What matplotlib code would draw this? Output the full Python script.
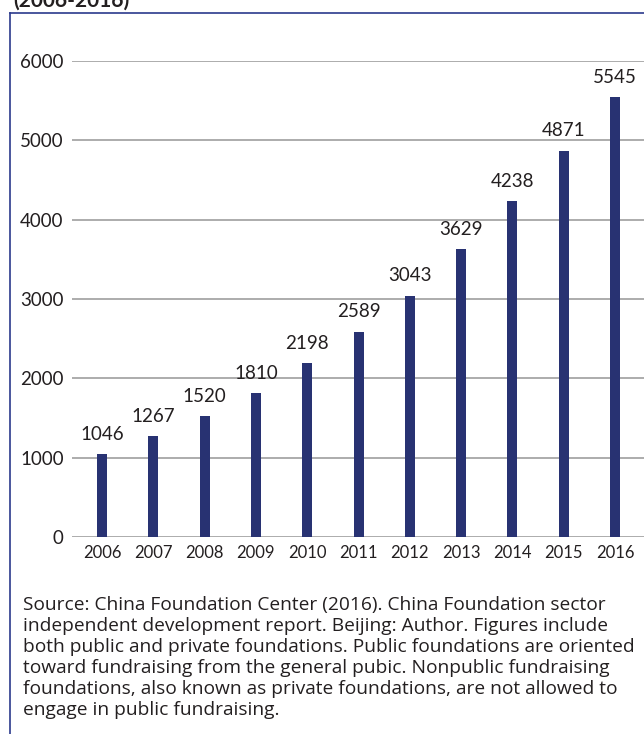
import matplotlib.pyplot as plt
from matplotlib.lines import Line2D

years = ["2006", "2007", "2008", "2009", "2010", "2011", "2012", "2013", "2014", "2015", "2016"]
counts = [1046, 1267, 1520, 1810, 2198, 2589, 3043, 3629, 4238, 4871, 5545]
y_ticks = [0, 1000, 2000, 3000, 4000, 5000, 6000]

title = "(2006-2016)"
source_note = (
    "Source: China Foundation Center (2016). China Foundation sector\n"
    "independent development report. Beijing: Author. Figures include\n"
    "both public and private foundations. Public foundations are oriented\n"
    "toward fundraising from the general pubic. Nonpublic fundraising\n"
    "foundations, also known as private foundations, are not allowed to\n"
    "engage in public fundraising."
)

BAR = "#283272"
FRAME = "#2b3a8c"
GRID = "#a6a6a6"
TEXT = "#231f20"

plt.rcParams["font.family"] = ["Lato", "DejaVu Sans"]

W, H = 644, 734
fig = plt.figure(figsize=(W / 100, H / 100), dpi=100)

# frame (left and top edges of the boxed figure)
fig.add_artist(Line2D([10 / W, 10 / W], [0, 1 - 13 / H], color=FRAME, lw=1.2,
                      transform=fig.transFigure))
fig.add_artist(Line2D([10 / W, 1], [1 - 13 / H, 1 - 13 / H], color=FRAME, lw=1.2,
                      transform=fig.transFigure))

fig.text(13 / W, 1 - 7 / H, title, fontsize=15, fontweight="bold", color=TEXT,
         ha="left", va="baseline")

ax = fig.add_axes([72 / W, 1 - 537 / H, 1 - 72 / W, (537 - 61) / H])
x = list(range(len(years)))
ax.bar(x, counts, width=0.195, color=BAR, zorder=3)
for xi, v in zip(x, counts):
    ax.annotate(f"{v}", (xi, v), xytext=(0, 8), textcoords="offset points",
                ha="center", va="bottom", fontsize=13.5, color=TEXT)

ax.set_xlim(-0.585, 10.565)
ax.set_ylim(0, 6000)
ax.set_yticks(y_ticks)
ax.set_yticklabels([str(t) for t in y_ticks], fontsize=13.5, color=TEXT)
ax.set_xticks(x)
ax.set_xticklabels(years, fontsize=12, color=TEXT)
ax.tick_params(axis="both", length=0)
ax.tick_params(axis="y", pad=6)
ax.tick_params(axis="x", pad=6)
for s in ax.spines.values():
    s.set_visible(False)
for t in y_ticks:
    ax.axhline(t, color=GRID, lw=1.3, zorder=1)

fig.text(23 / W, 1 - 596 / H, source_note, fontsize=13.8, color=TEXT,
         family=["Open Sans", "DejaVu Sans"],
         ha="left", va="top", linespacing=1.22)

fig.savefig("out.png", dpi=100)
